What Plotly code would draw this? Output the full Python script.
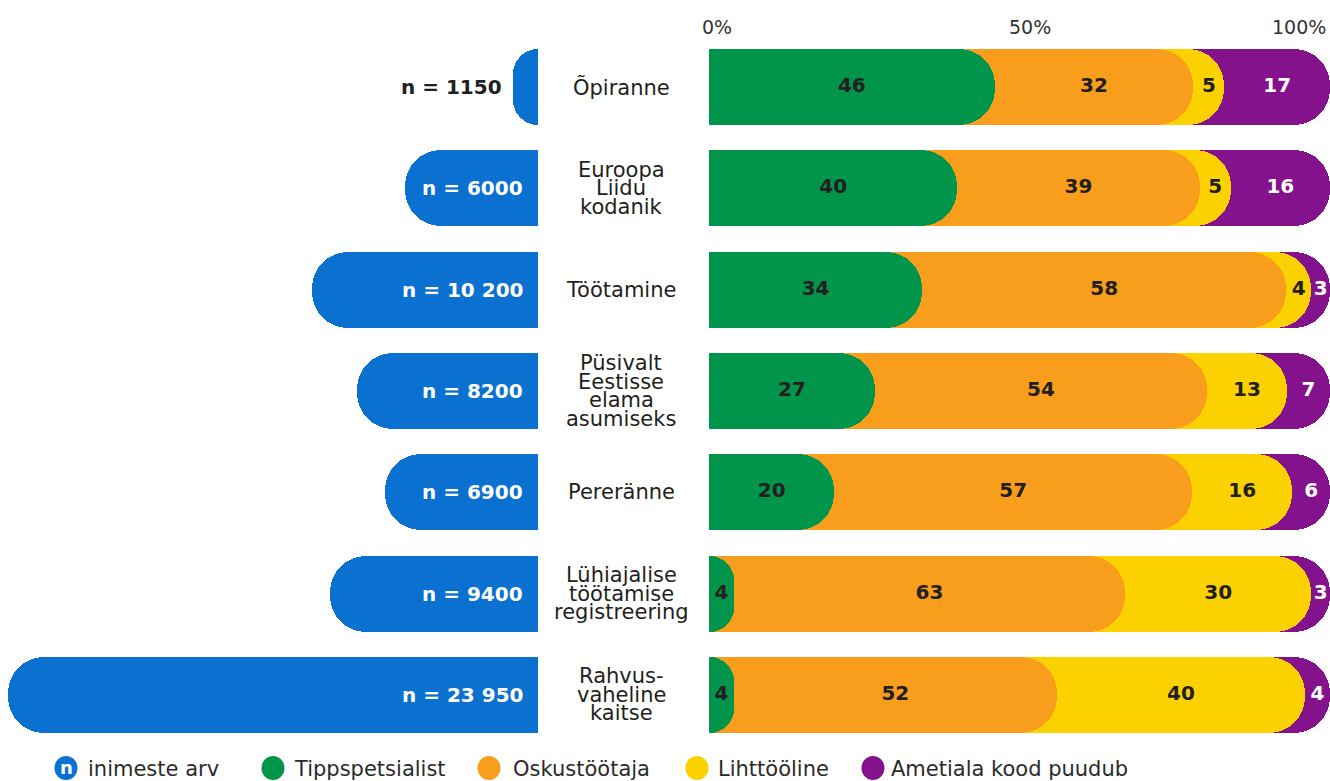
import plotly.graph_objects as go

# ---------------- data ----------------
categories = ["Õpiranne", "Euroopa<br>Liidu<br>kodanik", "Töötamine",
              "Püsivalt<br>Eestisse<br>elama<br>asumiseks", "Pereränne",
              "Lühiajalise<br>töötamise<br>registreering", "Rahvus-<br>vaheline<br>kaitse"]
n_people = [1150, 6000, 10200, 8200, 6900, 9400, 23950]
n_labels = ["n = 1150", "n = 6000", "n = 10 200", "n = 8200", "n = 6900", "n = 9400", "n = 23 950"]
tippspetsialist = [46, 40, 34, 27, 20, 4, 4]
oskustootaja = [32, 39, 58, 54, 57, 63, 52]
lihttooline = [5, 5, 4, 13, 16, 30, 40]
kood_puudub = [17, 16, 3, 7, 6, 3, 4]
series_names = ["Tippspetsialist", "Oskustöötaja", "Lihttööline", "Ametiala kood puudub"]
n_legend_label = "inimeste arv"
tick_values = [0, 50, 100]
tick_labels = ["0%", "50%", "100%"]

# ---------------- style ----------------
W, H = 1330, 781
FONT = "DejaVu Sans"
BLUE = "#0A71D0"
GREEN = "#00954A"
ORANGE = "#F99D1C"
YELLOW = "#FBD100"
PURPLE = "#84128D"
DARK = "#231F20"
series_colors = [GREEN, ORANGE, YELLOW, PURPLE]
label_colors = [DARK, DARK, DARK, "white"]
BAR_W = 0.75
RADIUS = 36
YRANGE = [6.849, -0.8586]
OUTSIDE_BELOW = 3000   # n-bars shorter than this get their label outside

series = [tippspetsialist, oskustootaja, lihttooline, kood_puudub]
ypos = list(range(len(categories)))

fig = go.Figure()

# left: number of people
fig.add_trace(go.Bar(
    y=ypos, x=n_people, orientation="h", xaxis="x", yaxis="y",
    width=BAR_W, marker=dict(color=BLUE, cornerradius=RADIUS, line=dict(width=0)),
    showlegend=False, hoverinfo="skip",
))

# right: 100% shares, drawn as cumulative bars with rounded ends, each series on its
# own overlaid y axis so every bar keeps its own rounded end
totals = [sum(s[i] for s in series) for i in ypos]
cums = []
running = [0] * len(ypos)
for s in series:
    running = [running[i] + s[i] for i in ypos]
    cums.append([running[i] / totals[i] * 100 for i in ypos])

# purple on y, yellow on y2, orange on y3, green on y4 (later axes draw on top)
axis_for = {3: "y", 2: "y2", 1: "y3", 0: "y4"}
for k in reversed(range(len(series))):
    fig.add_trace(go.Bar(
        y=ypos, x=cums[k], orientation="h", xaxis="x2", yaxis=axis_for[k],
        width=BAR_W, marker=dict(color=series_colors[k], cornerradius=RADIUS, line=dict(width=0)),
        showlegend=False, hoverinfo="skip",
    ))

for k in range(len(series)):
    prev = [0] * len(ypos) if k == 0 else cums[k - 1]
    mids = [(prev[i] + cums[k][i]) / 2 for i in ypos]
    fig.add_trace(go.Scatter(
        y=ypos, x=mids, xaxis="x2", yaxis="y5", mode="text",
        text=[str(v) for v in series[k]],
        textfont=dict(family=FONT, size=20, color=label_colors[k], weight=700),
        showlegend=False, hoverinfo="skip", cliponaxis=False,
    ))

annotations = []
# n labels on the blue bars
for i, (n, lbl) in enumerate(zip(n_people, n_labels)):
    outside = n < OUTSIDE_BELOW
    annotations.append(dict(
        x=n if outside else 0, xref="x", y=i, yref="y", text=lbl, showarrow=False,
        xanchor="right", yanchor="middle", xshift=-9 if outside else -13,
        font=dict(family=FONT, size=20, color=DARK if outside else "white", weight=700),
    ))

# category labels (tight line spacing as in the original)
LINE_H = 18.5
for i, cat in enumerate(categories):
    lines = cat.split("<br>")
    n = len(lines)
    for j, ln in enumerate(lines):
        annotations.append(dict(
            x=621 / W, xref="paper", y=i, yref="y", text=ln, showarrow=False,
            xanchor="center", yanchor="middle", yshift=-(j - (n - 1) / 2) * LINE_H,
            font=dict(family=FONT, size=21, color=DARK),
        ))

# percent ticks on top
anchors = ["left", "center", "right"]
shifts = [-9, 10, -2]
for v, t, a, s in zip(tick_values, tick_labels, anchors, shifts):
    annotations.append(dict(
        x=v, xref="x2", y=1 - 27 / H, yref="paper", text=t, showarrow=False,
        xanchor=a, yanchor="middle", xshift=s,
        font=dict(family=FONT, size=19, color="#333333"),
    ))

# manual legend
shapes = []
leg_y = 768
leg_items = [(66, 86, BLUE, n_legend_label)] + [
    (cx, tx, c, nm) for cx, tx, c, nm in zip([273, 489, 697, 873], [292, 511, 716, 889],
                                             series_colors, series_names)]
for cx, tx, c, nm in leg_items:
    shapes.append(dict(type="circle", xref="paper", yref="paper",
                       x0=(cx - 11.5) / W, x1=(cx + 11.5) / W,
                       y0=1 - (leg_y + 12) / H, y1=1 - (leg_y - 12) / H,
                       fillcolor=c, line=dict(width=0)))
    annotations.append(dict(
        x=tx / W, xref="paper", y=1 - (leg_y + 1) / H, yref="paper", text=nm, showarrow=False,
        xanchor="left", yanchor="middle", font=dict(family=FONT, size=21, color="#2B2B2B"),
    ))
annotations.append(dict(
    x=66 / W, xref="paper", y=1 - (leg_y - 1) / H, yref="paper", text="n", showarrow=False,
    xanchor="center", yanchor="middle", font=dict(family=FONT, size=18, color="white", weight=700),
))

hidden_y = dict(range=YRANGE, visible=False, fixedrange=True)
fig.update_layout(
    width=W, height=H, margin=dict(l=0, r=0, t=0, b=0),
    paper_bgcolor="white", plot_bgcolor="rgba(0,0,0,0)",
    barmode="overlay", bargap=0,
    xaxis=dict(domain=[0, 538 / W], range=[538 / (530 / 23950), 0], visible=False, fixedrange=True),
    xaxis2=dict(domain=[709 / W, 1], range=[0, 100], visible=False, anchor="y", fixedrange=True),
    yaxis=hidden_y,
    yaxis2=dict(hidden_y, overlaying="y"),
    yaxis3=dict(hidden_y, overlaying="y"),
    yaxis4=dict(hidden_y, overlaying="y"),
    yaxis5=dict(hidden_y, overlaying="y"),
    annotations=annotations, shapes=shapes,
    showlegend=False,
)

fig.write_html("out.html", config={"displayModeBar": False},
               post_script="document.body.style.margin='0';")
